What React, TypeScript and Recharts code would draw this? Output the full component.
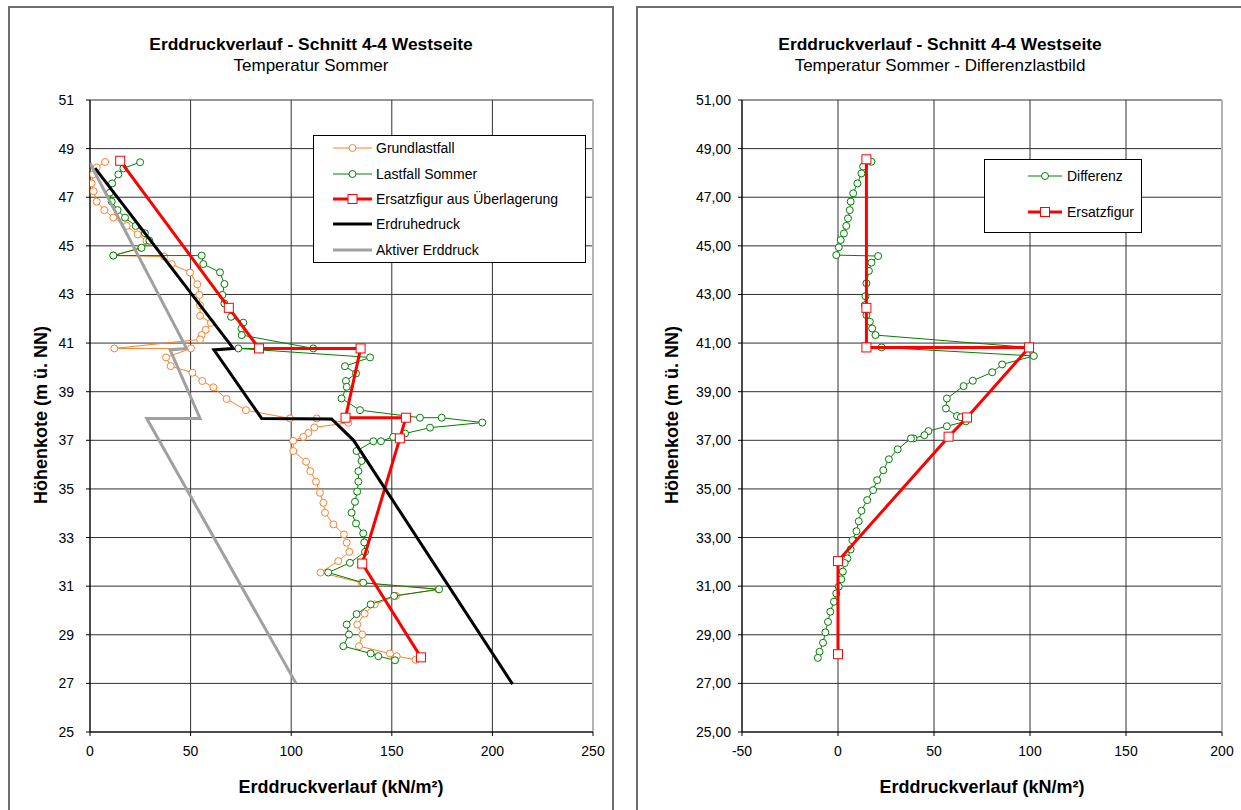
import React from 'react';
import { ScatterChart, Scatter, XAxis, YAxis, CartesianGrid, Legend, ReferenceLine } from 'recharts';

const FONT = '"Liberation Sans", Arial, Helvetica, sans-serif';

// ---------- Left chart data (x = Erddruck kN/m², y = Höhenkote m ü. NN) ----------
const grundDruck = [7.5, 3.3, 1.6, 0.8, 1.8, 3.3, 7.1, 11.6, 18.2, 23.7, 28.1, 25.3, 11.6, 36.8, 40.6, 49.7, 53.3, 54.3, 54.7, 54.7, 60.1, 57.5, 55.5, 54.7, 12.1, 50.2, 37.8, 40.1, 50.9, 55.8, 61.3, 67.9, 77.5, 99.4, 112.7, 128.4, 111.5, 108.5, 106, 101, 101, 107.4, 109.5, 112.3, 114.3, 116, 116.8, 121, 126.2, 127.6, 128.9, 123.4, 114.6, 135, 173.1, 152.1, 141.6, 136.5, 132.8, 135.3, 133.7, 149.1, 152.4, 161.8];
const grundKote = [48.45, 48.23, 47.94, 47.57, 47.25, 46.82, 46.47, 46.16, 45.82, 45.47, 45.21, 44.92, 44.6, 44.56, 44.25, 43.9, 43.42, 42.98, 42.56, 42.12, 41.83, 41.55, 41.33, 41.15, 40.78, 40.78, 40.41, 40.05, 39.78, 39.44, 39.18, 38.7, 38.24, 37.9, 37.9, 37.72, 37.53, 37.3, 37.14, 36.98, 36.56, 36.12, 35.73, 35.3, 34.84, 34.43, 34.02, 33.54, 33.13, 32.79, 32.41, 32.03, 31.56, 31.14, 30.87, 30.6, 30.25, 29.87, 29.42, 29.01, 28.53, 28.23, 28.12, 27.97];

const sommerDruck = [24.9, 16.6, 14.1, 11, 9.9, 10.8, 13.7, 17.4, 22.7, 27.3, 29.5, 25.6, 11.6, 55.5, 56.3, 64.6, 66.8, 65.8, 66.8, 70.1, 76.2, 75.3, 75.4, 111, 73.7, 139.2, 126.7, 132.2, 127.2, 127.6, 125, 134.2, 164, 174.8, 195, 169, 156.6, 150.7, 144.6, 140.8, 132.5, 135, 133.4, 133.4, 132.8, 131.7, 130, 132.2, 135.8, 136.3, 136.7, 129.2, 118.4, 135.8, 173.5, 151.2, 139.5, 132.5, 127.6, 128.7, 125.9, 139.5, 143.3, 151.6];
const sommerKote = [48.44, 48.19, 47.94, 47.57, 47.19, 46.82, 46.47, 46.16, 45.82, 45.52, 45.21, 44.92, 44.6, 44.6, 44.25, 43.91, 43.43, 42.98, 42.63, 42.08, 41.84, 41.6, 41.33, 40.78, 40.78, 40.41, 40.05, 39.75, 39.44, 39.2, 38.72, 38.24, 37.93, 37.93, 37.73, 37.52, 37.28, 37.14, 36.96, 36.96, 36.56, 36.15, 35.73, 35.3, 34.89, 34.47, 34.02, 33.58, 33.17, 32.8, 32.41, 31.96, 31.56, 31.14, 30.87, 30.6, 30.25, 29.85, 29.42, 29.01, 28.53, 28.23, 28.12, 27.95];

const ersatzDruck = [15, 69, 84, 134.5, 127, 157, 154, 135.3, 164.5];
const ersatzKote = [48.5, 42.45, 40.78, 40.78, 37.93, 37.93, 37.08, 31.93, 28.07];

const ruheDruck = [2.5, 71.2, 61.6, 85.3, 120.1, 131, 210];
const ruheKote = [48.2, 40.78, 40.72, 37.9, 37.88, 37.0, 26.97];

const aktivDruck = [0, 48, 39.8, 54.7, 28.2, 102.4];
const aktivKote = [48.4, 40.78, 40.72, 37.9, 37.9, 27.0];

// ---------- Right chart data ----------
const diffDruck = [17.4, 13.1, 12.2, 10.1, 7.9, 6.6, 6.1, 5.2, 4.3, 3.1, 1.4, 0.4, -0.9, 20.9, 17.4, 16.1, 14.8, 14.3, 14, 14.8, 16.6, 17.8, 19.5, 99.5, 22.7, 102, 85.5, 80.3, 70.2, 65.4, 56.7, 56.2, 62, 64, 66.6, 56.7, 47.1, 45, 39.3, 38, 31.1, 26.5, 23.6, 20.4, 18.3, 15.2, 12.2, 10.8, 9.6, 7.5, 6.6, 4.9, 3.5, 2.5, 1.7, 0.4, -0.9, -2.1, -4, -5.2, -6.6, -7.8, -9.6, -10.5];
const diffKote = [48.46, 48.26, 47.98, 47.57, 47.16, 46.82, 46.47, 46.13, 45.82, 45.51, 45.24, 44.94, 44.62, 44.58, 44.31, 43.97, 43.46, 42.93, 42.56, 42.15, 41.88, 41.6, 41.33, 40.82, 40.82, 40.47, 40.12, 39.8, 39.45, 39.23, 38.72, 38.31, 38.0, 37.95, 37.78, 37.58, 37.38, 37.21, 37.08, 37.08, 36.63, 36.22, 35.77, 35.36, 34.95, 34.54, 34.1, 33.67, 33.26, 32.89, 32.51, 32.14, 31.95, 31.6, 31.28, 30.98, 30.7, 30.36, 29.95, 29.53, 29.1, 28.67, 28.3, 28.05];

const ersatzRDruck = [14.8, 14.8, 14.8, 99.5, 67.2, 57.6, 0, 0];
const ersatzRKote = [48.56, 42.45, 40.82, 40.82, 37.94, 37.15, 32.03, 28.2];

// ---------- Axis ticks ----------
const koteTicks = [25, 27, 29, 31, 33, 35, 37, 39, 41, 43, 45, 47, 49, 51];
const leftXTicks = [0, 50, 100, 150, 200, 250];
const rightXTicks = [-50, 0, 50, 100, 150, 200];

const ORANGE = '#ff7f2a';
const GREEN = '#008000';
const RED = '#ff0000';
const BLACK = '#000000';
const GRAY = '#a0a0a0';

const toPts = (xs: number[], ys: number[]) => xs.map((x, i) => ({ x, y: ys[i] }));

const circleShape = (color: string) => (p: any) =>
  p.cx == null ? <g /> : <circle cx={p.cx} cy={p.cy} r={3.5} fill="#fff" stroke={color} strokeWidth={1} />;
const squareShape = (p: any) =>
  p.cx == null ? <g /> : <rect x={p.cx - 4.5} y={p.cy - 4.5} width={9} height={9} fill="#fff" stroke={RED} strokeWidth={1} />;
const noShape = () => <g />;

type LegendItem = { label: string; color: string; width: number; marker: 'circle' | 'square' | 'none' };

const LegendSvg = ({ w, h, items, ys, x1, x2, tx }: { w: number; h: number; items: LegendItem[]; ys: number[]; x1: number; x2: number; tx: number }) => (
  <svg width={w} height={h} style={{ display: 'block', overflow: 'visible' }}>
    <rect x={0.5} y={0.5} width={w - 1} height={h - 1} fill="#fff" stroke="#000" strokeWidth={1} />
    {items.map((it, i) => {
      const y = ys[i];
      const mx = (x1 + x2) / 2;
      return (
        <g key={it.label}>
          <line x1={x1} y1={y} x2={x2} y2={y} stroke={it.color} strokeWidth={it.width} />
          {it.marker === 'circle' && <circle cx={mx} cy={y} r={3.5} fill="#fff" stroke={it.color} strokeWidth={1} />}
          {it.marker === 'square' && <rect x={mx - 4.5} y={y - 4.5} width={9} height={9} fill="#fff" stroke={it.color} strokeWidth={1} />}
          <text x={tx} y={y} dominantBaseline="central" fontFamily={FONT} fontSize={14} fill="#000">{it.label}</text>
        </g>
      );
    })}
  </svg>
);

const leftLegendItems: LegendItem[] = [
  { label: 'Grundlastfall', color: ORANGE, width: 1, marker: 'circle' },
  { label: 'Lastfall Sommer', color: GREEN, width: 1, marker: 'circle' },
  { label: 'Ersatzfigur aus Überlagerung', color: RED, width: 3, marker: 'square' },
  { label: 'Erdruhedruck', color: BLACK, width: 3, marker: 'none' },
  { label: 'Aktiver Erddruck', color: GRAY, width: 3, marker: 'none' },
];
const rightLegendItems: LegendItem[] = [
  { label: 'Differenz', color: GREEN, width: 1, marker: 'circle' },
  { label: 'Ersatzfigur', color: RED, width: 3, marker: 'square' },
];

const tickStyle = { fill: '#000', fontSize: 14, fontFamily: FONT };

const abs = (left: number, top: number): React.CSSProperties => ({ position: 'absolute', left, top });

const Title = ({ cx, title, sub }: { cx: number; title: string; sub: string }) => (
  <>
    <div style={{ position: 'absolute', left: cx, top: 44, transform: 'translate(-50%,-50%)', whiteSpace: 'nowrap', fontFamily: FONT, fontWeight: 'bold', fontSize: 17.4, color: '#000' }}>{title}</div>
    <div style={{ position: 'absolute', left: cx, top: 66, transform: 'translate(-50%,-50%)', whiteSpace: 'nowrap', fontFamily: FONT, fontSize: 17, color: '#000' }}>{sub}</div>
  </>
);

const AxisTitles = ({ xcx, ycx }: { xcx: number; ycx: number }) => (
  <>
    <div style={{ position: 'absolute', left: xcx, top: 787, transform: 'translate(-50%,-50%)', whiteSpace: 'nowrap', fontFamily: FONT, fontWeight: 'bold', fontSize: 18, color: '#000' }}>Erddruckverlauf (kN/m²)</div>
    <div style={{ position: 'absolute', left: ycx, top: 415, transform: 'translate(-50%,-50%) rotate(-90deg)', whiteSpace: 'nowrap', fontFamily: FONT, fontWeight: 'bold', fontSize: 18, color: '#000' }}>Höhenkote (m ü. NN)</div>
  </>
);

export default function App() {
  return (
    <div style={{ position: 'absolute', left: 0, top: 0, width: 1241, height: 810, background: '#fff', overflow: 'hidden' }}>
      {/* panel frames */}
      <div style={{ position: 'absolute', left: 8, top: 6, width: 606, height: 820, border: '2px solid #6e6e6e', boxSizing: 'border-box' }} />
      <div style={{ position: 'absolute', left: 636, top: 6, width: 620, height: 820, border: '2px solid #6e6e6e', boxSizing: 'border-box' }} />

      <Title cx={311} title="Erddruckverlauf - Schnitt 4-4 Westseite" sub="Temperatur Sommer" />
      <Title cx={940} title="Erddruckverlauf - Schnitt 4-4 Westseite" sub="Temperatur Sommer - Differenzlastbild" />
      <AxisTitles xcx={341} ycx={41} />
      <AxisTitles xcx={982} ycx={672} />

      {/* Left chart */}
      <div style={abs(0, 0)}>
        <ScatterChart width={620} height={810} margin={{ top: 100, right: 27, bottom: 48, left: 30 }}>
          <CartesianGrid stroke="#303030" strokeWidth={1} horizontalValues={koteTicks} verticalValues={leftXTicks} />
          <XAxis type="number" dataKey="x" domain={[0, 250]} ticks={leftXTicks} height={30} tick={tickStyle} tickSize={4} tickMargin={10} stroke="#000" allowDataOverflow />
          <YAxis type="number" dataKey="y" domain={[25, 51]} ticks={koteTicks} width={60} tick={tickStyle} tickSize={4} tickMargin={12} stroke="#000" allowDataOverflow />
          <ReferenceLine x={250} stroke="#b4b4b4" strokeWidth={2} />
          <Scatter data={toPts(grundDruck, grundKote)} line={{ stroke: ORANGE, strokeWidth: 1 }} lineType="joint" shape={circleShape(ORANGE)} isAnimationActive={false} />
          <Scatter data={toPts(sommerDruck, sommerKote)} line={{ stroke: GREEN, strokeWidth: 1 }} lineType="joint" shape={circleShape(GREEN)} isAnimationActive={false} />
          <Scatter data={toPts(ersatzDruck, ersatzKote)} line={{ stroke: RED, strokeWidth: 3 }} lineType="joint" shape={squareShape} isAnimationActive={false} />
          <Scatter data={toPts(ruheDruck, ruheKote)} line={{ stroke: BLACK, strokeWidth: 3 }} lineType="joint" shape={noShape} isAnimationActive={false} />
          <Scatter data={toPts(aktivDruck, aktivKote)} line={{ stroke: GRAY, strokeWidth: 3 }} lineType="joint" shape={noShape} isAnimationActive={false} />
          <Legend
            layout="vertical"
            align="center"
            verticalAlign="middle"
            wrapperStyle={{ position: 'absolute', left: 313, top: 135, width: 273, height: 128 }}
            content={() => <LegendSvg w={273} h={128} items={leftLegendItems} ys={[13, 39, 64, 89, 115]} x1={20} x2={59} tx={63} />}
          />
        </ScatterChart>
      </div>

      {/* Right chart */}
      <div style={abs(620, 0)}>
        <ScatterChart width={621} height={810} margin={{ top: 100, right: 19, bottom: 48, left: 52 }}>
          <CartesianGrid stroke="#303030" strokeWidth={1} horizontalValues={koteTicks} verticalValues={rightXTicks} />
          <XAxis type="number" dataKey="x" domain={[-50, 200]} ticks={rightXTicks} height={30} tick={tickStyle} tickSize={4} tickMargin={10} stroke="#000" allowDataOverflow />
          <YAxis type="number" dataKey="y" domain={[25, 51]} ticks={koteTicks} width={70} tick={tickStyle} tickSize={4} tickMargin={7} stroke="#000" tickFormatter={(v: number) => v.toFixed(2).replace('.', ',')} allowDataOverflow />
          <ReferenceLine x={200} stroke="#b4b4b4" strokeWidth={2} />
          <Scatter data={toPts(diffDruck, diffKote)} line={{ stroke: GREEN, strokeWidth: 1 }} lineType="joint" shape={circleShape(GREEN)} isAnimationActive={false} />
          <Scatter data={toPts(ersatzRDruck, ersatzRKote)} line={{ stroke: RED, strokeWidth: 3 }} lineType="joint" shape={squareShape} isAnimationActive={false} />
          <Legend
            layout="vertical"
            align="center"
            verticalAlign="middle"
            wrapperStyle={{ position: 'absolute', left: 364, top: 159, width: 158, height: 74 }}
            content={() => <LegendSvg w={158} h={74} items={rightLegendItems} ys={[17, 53]} x1={44} x2={78} tx={83} />}
          />
        </ScatterChart>
      </div>
    </div>
  );
}
